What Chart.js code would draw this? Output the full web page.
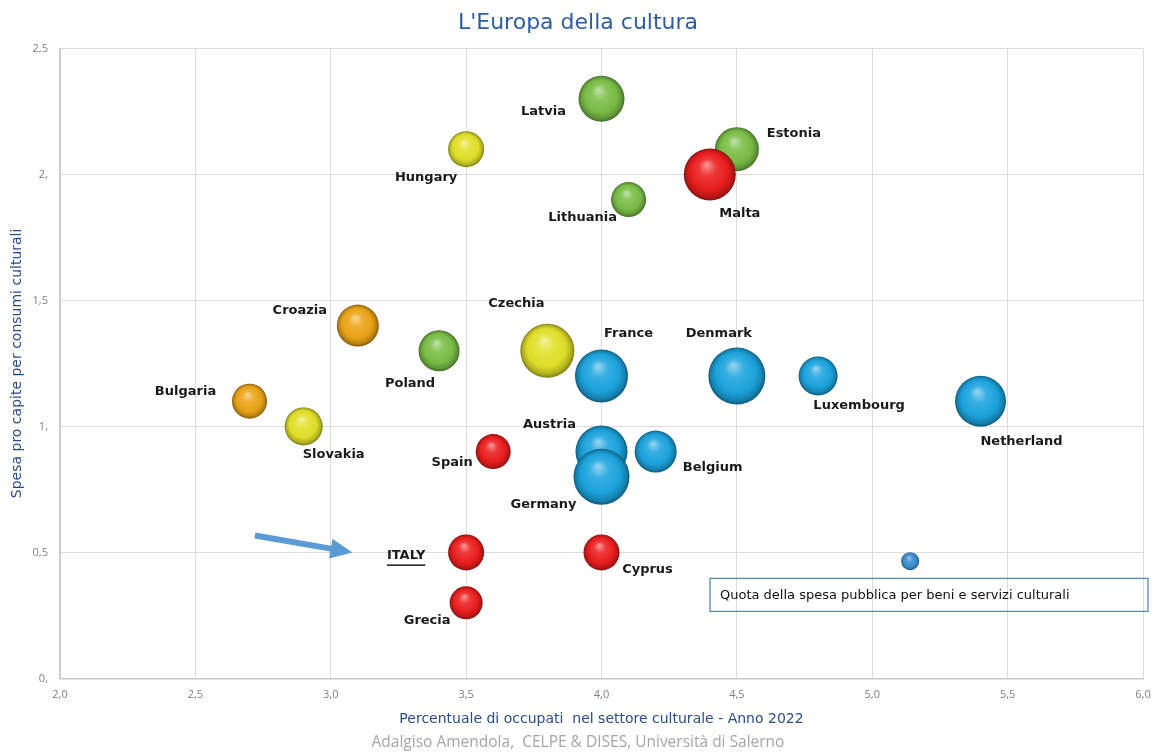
<!DOCTYPE html>
<html>
<head>
<meta charset="utf-8">
<title>L'Europa della cultura</title>
<script src="https://cdn.jsdelivr.net/npm/chart.js@4"></script>
<style>
    html, body { margin: 0; padding: 0; background: #fff; }
    #wrap { width: 1156px; height: 756px; }
</style>
</head>
<body>
<div id="wrap"><canvas id="cultureChart" width="1156" height="756"></canvas></div>
<script>
// dati
const countries = ['Latvia', 'Hungary', 'Estonia', 'Malta', 'Lithuania', 'Croazia', 'Poland', 'Czechia',
    'France', 'Denmark', 'Luxembourg', 'Netherland', 'Bulgaria', 'Slovakia', 'Spain', 'Austria',
    'Belgium', 'Germany', 'ITALY', 'Cyprus', 'Grecia'];
const occupati = [4.0, 3.5, 4.5, 4.4, 4.1, 3.1, 3.4, 3.8, 4.0, 4.5, 4.8, 5.4, 2.7, 2.9, 3.6, 4.0, 4.2, 4.0, 3.5, 4.0, 3.5];
const spesaProCapite = [2.3, 2.1, 2.1, 2.0, 1.9, 1.4, 1.3, 1.3, 1.2, 1.2, 1.2, 1.1, 1.1, 1.0, 0.9, 0.9, 0.9, 0.8, 0.5, 0.5, 0.3];
const quotaSpesa = [2.3, 1.8, 2.2, 2.6, 1.75, 2.1, 2.05, 2.7, 2.65, 2.85, 1.95, 2.55, 1.75, 1.9, 1.75, 2.6, 2.1, 2.8, 1.8, 1.8, 1.65];
const groups = ['green', 'yellow', 'green', 'red', 'green', 'orange', 'green', 'yellow',
    'blue', 'blue', 'blue', 'blue', 'orange', 'yellow', 'red', 'blue',
    'blue', 'blue', 'red', 'red', 'red'];

const legendPoint = { x: 5.14, y: 0.465, quota: 0.9 };
const legendText = 'Quota della spesa pubblica per beni e servizi culturali';

const xTickLabels = ['2,0', '2,5', '3,0', '3,5', '4,0', '4,5', '5,0', '5,5', '6,0'];
const yTickLabels = ['0,', '0,5', '1,', '1,5', '2,', '2,5'];

// impaginazione delle etichette (px rispetto al centro della bolla)
const labelOffsets = [[-58, 13], [-40, 28], [57, -16], [30, 39], [-46, 18], [-58, -15], [-29, 33], [-31, -47],
    [27, -42], [-18, -42], [41, 30], [41, 40], [-64, -10], [30, 28], [-41, 11], [-52, -27],
    [57, 16], [-58, 28], [-60, 3], [46, 17], [-39, 18]];

const palette = {
    blue: [28, 164, 222],
    red: [236, 30, 30],
    green: [122, 190, 70],
    yellow: [226, 224, 40],
    orange: [236, 164, 22],
    legend: [60, 142, 206]
};
const R_SCALE = 10;

function mix(c, t, k) {
    return 'rgb(' + c.map((v, i) => Math.round(v + (t[i] - v) * k)).join(',') + ')';
}

function sphere(context, rgb) {
    const chart = context.chart;
    const raw = context.raw;
    if (!raw || !chart.chartArea) return mix(rgb, rgb, 0);
    const cx = chart.scales.x.getPixelForValue(raw.x);
    const cy = chart.scales.y.getPixelForValue(raw.y);
    const r = raw.r;
    const g = chart.ctx.createRadialGradient(cx - r * 0.12, cy - r * 0.38, r * 0.04, cx, cy, r);
    g.addColorStop(0, mix(rgb, [255, 255, 255], 0.5));
    g.addColorStop(0.3, mix(rgb, [255, 255, 255], 0.12));
    g.addColorStop(0.7, mix(rgb, [0, 0, 0], 0.02));
    g.addColorStop(0.9, mix(rgb, [0, 0, 0], 0.22));
    g.addColorStop(1, mix(rgb, [0, 0, 0], 0.45));
    return g;
}

const points = countries.map((name, i) => ({
    x: occupati[i], y: spesaProCapite[i], r: quotaSpesa[i] * R_SCALE
}));

const labelPlugin = {
    id: 'labels',
    afterDatasetsDraw(chart) {
        const ctx = chart.ctx;
        const meta = chart.getDatasetMeta(0);
        const xs = chart.scales.x, ys = chart.scales.y;
        ctx.save();
        ctx.font = 'bold 13px "DejaVu Sans"';
        ctx.fillStyle = '#1a1a1a';
        ctx.textAlign = 'center';
        ctx.textBaseline = 'middle';
        meta.data.forEach((pt, i) => {
            const lx = pt.x + labelOffsets[i][0];
            const ly = pt.y + labelOffsets[i][1];
            ctx.fillText(countries[i], lx, ly);
            if (countries[i] === 'ITALY') {
                const w = ctx.measureText(countries[i]).width;
                ctx.fillRect(lx - w / 2, ly + 9, w, 1.5);
            }
        });

        // freccia verso l'Italia
        const x0 = xs.getPixelForValue(2.72), y0 = ys.getPixelForValue(0.567);
        const x1 = xs.getPixelForValue(3.08), y1 = ys.getPixelForValue(0.50);
        const ang = Math.atan2(y1 - y0, x1 - x0);
        const len = Math.hypot(x1 - x0, y1 - y0);
        ctx.translate(x0, y0);
        ctx.rotate(ang);
        ctx.fillStyle = '#5B9BD5';
        ctx.beginPath();
        ctx.moveTo(0, -3);
        ctx.lineTo(len - 22, -3);
        ctx.lineTo(len - 22, -10);
        ctx.lineTo(len, 0);
        ctx.lineTo(len - 22, 10);
        ctx.lineTo(len - 22, 3);
        ctx.lineTo(0, 3);
        ctx.closePath();
        ctx.fill();
        ctx.restore();

        // riquadro legenda
        const area = chart.chartArea;
        ctx.save();
        ctx.strokeStyle = '#5A8AB8';
        ctx.lineWidth = 1.3;
        ctx.strokeRect(area.right - 433, area.bottom - 100, 438, 33);
        ctx.font = '13px "DejaVu Sans"';
        ctx.fillStyle = '#111';
        ctx.textBaseline = 'middle';
        ctx.fillText(legendText, area.right - 423, area.bottom - 83);
        ctx.restore();
    }
};

new Chart(document.getElementById('cultureChart'), {
    type: 'bubble',
    data: {
        datasets: [{
            data: points,
            backgroundColor: (c) => sphere(c, palette[groups[c.dataIndex]]),
            borderWidth: 0,
            hoverBorderWidth: 0
        }, {
            data: [{ x: legendPoint.x, y: legendPoint.y, r: legendPoint.quota * R_SCALE }],
            backgroundColor: (c) => sphere(c, palette.legend),
            borderWidth: 0
        }]
    },
    options: {
        responsive: false,
        animation: false,
        layout: { autoPadding: false, padding: { left: 0, right: 0, top: 0, bottom: 0 } },
        plugins: {
            legend: { display: false },
            tooltip: { enabled: false },
            title: {
                display: true,
                text: "L'Europa della cultura",
                color: '#2F5DA8',
                font: { family: 'DejaVu Sans', size: 22, weight: 'normal' },
                padding: { top: 10, bottom: 12 }
            },
            subtitle: {
                display: true,
                position: 'bottom',
                text: 'Adalgiso Amendola,  CELPE & DISES, Università di Salerno',
                color: '#A6A6A6',
                font: { family: 'Open Sans', size: 15.5 },
                padding: { top: 0, bottom: 4 }
            }
        },
        scales: {
            x: {
                type: 'linear',
                min: 2, max: 6,
                afterFit: (s) => { s.height = 55; s.paddingRight = 13; s.paddingLeft = 0; },
                ticks: {
                    stepSize: 0.5,
                    padding: 10,
                    color: '#808080',
                    font: { family: 'Open Sans', size: 11 },
                    callback: (v, i) => xTickLabels[i]
                },
                grid: { color: '#DDDDDD', drawTicks: false },
                border: { color: '#C8C8C8', width: 1.5 },
                title: {
                    display: true,
                    text: 'Percentuale di occupati  nel settore culturale - Anno 2022',
                    color: '#2B4C8C',
                    font: { family: 'DejaVu Sans', size: 14 },
                    padding: { top: 0, bottom: 6 }
                }
            },
            y: {
                type: 'linear',
                min: 0, max: 2.5,
                afterFit: (s) => { s.width = 60; },
                ticks: {
                    stepSize: 0.5,
                    padding: 12,
                    color: '#808080',
                    font: { family: 'Open Sans', size: 11 },
                    callback: (v, i) => yTickLabels[i]
                },
                grid: { color: '#DDDDDD', drawTicks: false },
                border: { color: '#C8C8C8', width: 1.5 },
                title: {
                    display: true,
                    text: 'Spesa pro capite per consumi culturali',
                    color: '#2B4C8C',
                    font: { family: 'DejaVu Sans', size: 14 },
                    padding: { top: 9, bottom: 0 }
                }
            }
        }
    },
    plugins: [labelPlugin]
});
</script>
</body>
</html>
